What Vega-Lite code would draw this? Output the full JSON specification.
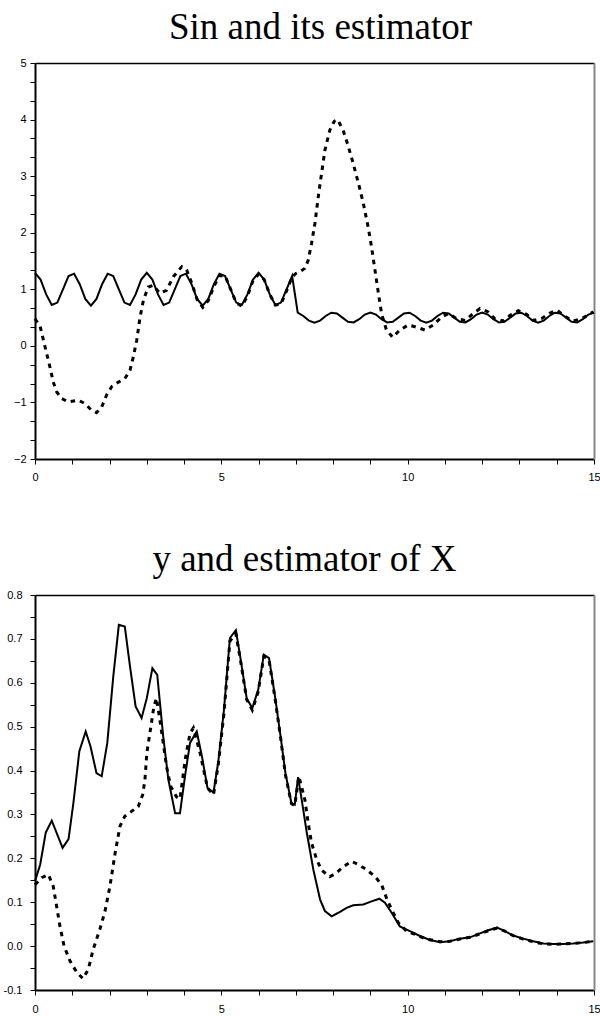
{
  "$schema": "https://vega.github.io/schema/vega-lite/v6.json",
  "padding": {"left": 3, "top": 9, "right": 6, "bottom": 2},
  "background": "white",
  "config": {
    "view": {"stroke": null},
    "axis": {
      "labelFont": "Liberation Sans",
      "labelFontSize": 11,
      "labelColor": "black",
      "tickColor": "black",
      "tickSize": 5,
      "tickWidth": 1,
      "domainColor": "black",
      "domainWidth": 2,
      "grid": false,
      "title": null,
      "labelFlush": false,
      "labelOverlap": false
    },
    "title": {
      "font": "Liberation Serif",
      "fontSize": 37,
      "fontWeight": "normal",
      "color": "black",
      "anchor": "middle",
      "offset": 10
    }
  },
  "bounds": "flush",
  "spacing": 136,
  "datasets": {
    "sin": [
      {"t":0,"v":1.29},{"t":0.15,"v":1.171},{"t":0.3,"v":0.91},{"t":0.45,"v":0.724},{"t":0.6,"v":0.765},{"t":0.75,"v":1.0},{"t":0.9,"v":1.235},{"t":1.05,"v":1.276},{"t":1.2,"v":1.09},{"t":1.35,"v":0.829},
      {"t":1.5,"v":0.71},{"t":1.65,"v":0.829},{"t":1.8,"v":1.09},{"t":1.95,"v":1.276},{"t":2.1,"v":1.235},{"t":2.25,"v":1.0},{"t":2.4,"v":0.765},{"t":2.55,"v":0.724},{"t":2.7,"v":0.91},{"t":2.85,"v":1.171},
      {"t":3.0,"v":1.29},{"t":3.15,"v":1.171},{"t":3.3,"v":0.91},{"t":3.45,"v":0.724},{"t":3.6,"v":0.765},{"t":3.75,"v":1.0},{"t":3.9,"v":1.235},{"t":4.05,"v":1.276},{"t":4.2,"v":1.09},{"t":4.35,"v":0.829},
      {"t":4.5,"v":0.71},{"t":4.65,"v":0.829},{"t":4.8,"v":1.09},{"t":4.95,"v":1.276},{"t":5.1,"v":1.235},{"t":5.25,"v":1.0},{"t":5.4,"v":0.765},{"t":5.55,"v":0.724},{"t":5.7,"v":0.91},{"t":5.85,"v":1.171},
      {"t":6.0,"v":1.29},{"t":6.15,"v":1.171},{"t":6.3,"v":0.91},{"t":6.45,"v":0.724},{"t":6.6,"v":0.765},{"t":6.75,"v":1.0},{"t":6.9,"v":1.235},
      {"t":7.05,"v":0.586},{"t":7.2,"v":0.528},{"t":7.35,"v":0.447},{"t":7.5,"v":0.41},{"t":7.65,"v":0.447},{"t":7.8,"v":0.528},{"t":7.95,"v":0.586},{"t":8.1,"v":0.573},{"t":8.25,"v":0.5},{"t":8.4,"v":0.427},
      {"t":8.55,"v":0.414},{"t":8.7,"v":0.472},{"t":8.85,"v":0.553},{"t":9.0,"v":0.59},{"t":9.15,"v":0.553},{"t":9.3,"v":0.472},{"t":9.45,"v":0.414},{"t":9.6,"v":0.427},{"t":9.75,"v":0.5},{"t":9.9,"v":0.573},
      {"t":10.05,"v":0.586},{"t":10.2,"v":0.528},{"t":10.35,"v":0.447},{"t":10.5,"v":0.41},{"t":10.65,"v":0.447},{"t":10.8,"v":0.528},{"t":10.95,"v":0.586},{"t":11.1,"v":0.573},{"t":11.25,"v":0.5},{"t":11.4,"v":0.427},
      {"t":11.55,"v":0.414},{"t":11.7,"v":0.472},{"t":11.85,"v":0.553},{"t":12.0,"v":0.59},{"t":12.15,"v":0.553},{"t":12.3,"v":0.472},{"t":12.45,"v":0.414},{"t":12.6,"v":0.427},{"t":12.75,"v":0.5},{"t":12.9,"v":0.573},
      {"t":13.05,"v":0.586},{"t":13.2,"v":0.528},{"t":13.35,"v":0.447},{"t":13.5,"v":0.41},{"t":13.65,"v":0.447},{"t":13.8,"v":0.528},{"t":13.95,"v":0.586},{"t":14.1,"v":0.573},{"t":14.25,"v":0.5},{"t":14.4,"v":0.427},
      {"t":14.55,"v":0.414},{"t":14.7,"v":0.472},{"t":14.85,"v":0.553},{"t":15.0,"v":0.59}
    ],
    "sinEst": [
      {"t":0,"v":0.48},{"t":0.14,"v":0.34},{"t":0.27,"v":-0.02},{"t":0.4,"v":-0.37},{"t":0.49,"v":-0.64},{"t":0.58,"v":-0.81},{"t":0.71,"v":-0.93},{"t":0.89,"v":-0.99},{"t":1.16,"v":-0.96},{"t":1.34,"v":-1.02},
      {"t":1.52,"v":-1.14},{"t":1.65,"v":-1.18},{"t":1.79,"v":-1.08},{"t":1.92,"v":-0.87},{"t":2.06,"v":-0.72},{"t":2.24,"v":-0.64},{"t":2.41,"v":-0.58},{"t":2.55,"v":-0.43},{"t":2.64,"v":-0.19},{"t":2.73,"v":0.1},
      {"t":2.82,"v":0.51},{"t":2.91,"v":0.81},{"t":3.04,"v":1.04},{"t":3.17,"v":1.07},{"t":3.35,"v":0.93},{"t":3.53,"v":0.98},{"t":3.71,"v":1.22},{"t":3.94,"v":1.4},{"t":4.07,"v":1.34},{"t":4.2,"v":1.12},
      {"t":4.35,"v":0.82},{"t":4.5,"v":0.68},{"t":4.65,"v":0.8},{"t":4.8,"v":1.05},{"t":4.95,"v":1.24},{"t":5.1,"v":1.24},{"t":5.25,"v":1.0},{"t":5.4,"v":0.76},{"t":5.55,"v":0.7},{"t":5.7,"v":0.88},
      {"t":5.85,"v":1.15},{"t":6.0,"v":1.27},{"t":6.15,"v":1.17},{"t":6.3,"v":0.91},{"t":6.45,"v":0.72},{"t":6.6,"v":0.74},{"t":6.75,"v":0.97},{"t":6.9,"v":1.22},{"t":7.0,"v":1.28},{"t":7.11,"v":1.31},
      {"t":7.24,"v":1.37},{"t":7.33,"v":1.51},{"t":7.42,"v":1.81},{"t":7.51,"v":2.16},{"t":7.6,"v":2.63},{"t":7.69,"v":3.05},{"t":7.78,"v":3.46},{"t":7.91,"v":3.81},{"t":8.03,"v":3.97},{"t":8.12,"v":4.0},
      {"t":8.27,"v":3.81},{"t":8.41,"v":3.52},{"t":8.54,"v":3.22},{"t":8.68,"v":2.87},{"t":8.81,"v":2.52},{"t":8.94,"v":2.1},{"t":9.03,"v":1.75},{"t":9.12,"v":1.35},{"t":9.21,"v":0.95},{"t":9.3,"v":0.57},
      {"t":9.43,"v":0.28},{"t":9.6,"v":0.15},{"t":9.79,"v":0.28},{"t":10.02,"v":0.37},{"t":10.24,"v":0.33},{"t":10.46,"v":0.28},{"t":10.69,"v":0.37},{"t":10.91,"v":0.51},{"t":11.09,"v":0.57},{"t":11.32,"v":0.48},
      {"t":11.54,"v":0.45},{"t":11.76,"v":0.57},{"t":11.94,"v":0.66},{"t":12.16,"v":0.6},{"t":12.34,"v":0.48},{"t":12.57,"v":0.44},{"t":12.75,"v":0.54},{"t":12.97,"v":0.62},{"t":13.19,"v":0.56},{"t":13.37,"v":0.45},
      {"t":13.59,"v":0.48},{"t":13.82,"v":0.58},{"t":14.01,"v":0.63},{"t":14.22,"v":0.52},{"t":14.44,"v":0.44},{"t":14.67,"v":0.48},{"t":14.98,"v":0.6}
    ],
    "y": [
      {"t":0,"v":0.148},{"t":0.14,"v":0.186},{"t":0.29,"v":0.259},{"t":0.45,"v":0.286},{"t":0.74,"v":0.224},{"t":0.9,"v":0.244},{"t":1.03,"v":0.326},{"t":1.19,"v":0.444},{"t":1.36,"v":0.489},{"t":1.49,"v":0.455},
      {"t":1.65,"v":0.394},{"t":1.79,"v":0.387},{"t":1.94,"v":0.463},{"t":2.1,"v":0.614},{"t":2.25,"v":0.732},{"t":2.41,"v":0.728},{"t":2.55,"v":0.637},{"t":2.7,"v":0.546},{"t":2.86,"v":0.52},{"t":3.0,"v":0.565},
      {"t":3.15,"v":0.633},{"t":3.28,"v":0.618},{"t":3.44,"v":0.478},{"t":3.58,"v":0.379},{"t":3.76,"v":0.303},{"t":3.89,"v":0.303},{"t":4.03,"v":0.39},{"t":4.16,"v":0.463},{"t":4.34,"v":0.489},{"t":4.48,"v":0.432},
      {"t":4.63,"v":0.36},{"t":4.79,"v":0.35},{"t":4.92,"v":0.421},{"t":5.07,"v":0.538},{"t":5.23,"v":0.702},{"t":5.39,"v":0.72},{"t":5.52,"v":0.652},{"t":5.68,"v":0.565},{"t":5.83,"v":0.542},{"t":5.99,"v":0.584},
      {"t":6.14,"v":0.664},{"t":6.28,"v":0.656},{"t":6.44,"v":0.569},{"t":6.59,"v":0.478},{"t":6.72,"v":0.394},{"t":6.88,"v":0.326},{"t":6.97,"v":0.322},{"t":7.06,"v":0.385},{"t":7.2,"v":0.31},{"t":7.29,"v":0.26},
      {"t":7.47,"v":0.174},{"t":7.65,"v":0.106},{"t":7.78,"v":0.08},{"t":7.96,"v":0.068},{"t":8.14,"v":0.076},{"t":8.36,"v":0.087},{"t":8.54,"v":0.093},{"t":8.81,"v":0.095},{"t":9.03,"v":0.102},{"t":9.24,"v":0.108},
      {"t":9.39,"v":0.099},{"t":9.57,"v":0.076},{"t":9.79,"v":0.045},{"t":10.06,"v":0.034},{"t":10.33,"v":0.023},{"t":10.6,"v":0.014},{"t":10.87,"v":0.009},{"t":11.13,"v":0.011},{"t":11.4,"v":0.017},{"t":11.67,"v":0.02},
      {"t":11.94,"v":0.029},{"t":12.16,"v":0.036},{"t":12.4,"v":0.042},{"t":12.61,"v":0.034},{"t":12.83,"v":0.024},{"t":13.1,"v":0.017},{"t":13.37,"v":0.011},{"t":13.64,"v":0.006},{"t":13.91,"v":0.005},{"t":14.17,"v":0.005},
      {"t":14.44,"v":0.006},{"t":14.71,"v":0.008},{"t":14.98,"v":0.011}
    ],
    "xEst": [
      {"t":0,"v":0.14},{"t":0.18,"v":0.156},{"t":0.36,"v":0.163},{"t":0.49,"v":0.136},{"t":0.58,"v":0.091},{"t":0.67,"v":0.045},{"t":0.78,"v":0.0},{"t":0.94,"v":-0.034},{"t":1.13,"v":-0.061},{"t":1.29,"v":-0.074},
      {"t":1.43,"v":-0.053},{"t":1.56,"v":-0.008},{"t":1.74,"v":0.038},{"t":1.88,"v":0.08},{"t":2.01,"v":0.136},{"t":2.15,"v":0.212},{"t":2.28,"v":0.273},{"t":2.41,"v":0.296},{"t":2.59,"v":0.307},{"t":2.77,"v":0.318},
      {"t":2.89,"v":0.345},{"t":2.95,"v":0.379},{"t":3.0,"v":0.44},{"t":3.11,"v":0.5},{"t":3.19,"v":0.546},{"t":3.26,"v":0.565},{"t":3.35,"v":0.516},{"t":3.44,"v":0.463},{"t":3.53,"v":0.409},{"t":3.64,"v":0.364},
      {"t":3.8,"v":0.34},{"t":3.89,"v":0.335},{"t":4.03,"v":0.425},{"t":4.16,"v":0.485},{"t":4.25,"v":0.497},{"t":4.43,"v":0.44},{"t":4.63,"v":0.36},{"t":4.79,"v":0.345},{"t":4.92,"v":0.415},{"t":5.07,"v":0.53},
      {"t":5.23,"v":0.695},{"t":5.39,"v":0.712},{"t":5.52,"v":0.648},{"t":5.68,"v":0.562},{"t":5.83,"v":0.538},{"t":5.99,"v":0.58},{"t":6.14,"v":0.66},{"t":6.28,"v":0.652},{"t":6.44,"v":0.565},{"t":6.59,"v":0.475},
      {"t":6.72,"v":0.39},{"t":6.88,"v":0.325},{"t":6.97,"v":0.32},{"t":7.08,"v":0.387},{"t":7.24,"v":0.334},{"t":7.33,"v":0.281},{"t":7.42,"v":0.235},{"t":7.56,"v":0.197},{"t":7.69,"v":0.173},{"t":7.91,"v":0.158},
      {"t":8.09,"v":0.167},{"t":8.27,"v":0.181},{"t":8.5,"v":0.193},{"t":8.67,"v":0.186},{"t":8.9,"v":0.174},{"t":9.12,"v":0.159},{"t":9.3,"v":0.14},{"t":9.43,"v":0.11},{"t":9.57,"v":0.083},{"t":9.75,"v":0.053},
      {"t":9.97,"v":0.034},{"t":10.2,"v":0.027},{"t":10.46,"v":0.017},{"t":10.87,"v":0.01},{"t":11.13,"v":0.011},{"t":11.4,"v":0.016},{"t":11.67,"v":0.02},{"t":11.94,"v":0.028},{"t":12.16,"v":0.035},{"t":12.4,"v":0.041},
      {"t":12.61,"v":0.034},{"t":12.83,"v":0.024},{"t":13.1,"v":0.016},{"t":13.37,"v":0.01},{"t":13.64,"v":0.005},{"t":13.91,"v":0.004},{"t":14.17,"v":0.005},{"t":14.44,"v":0.006},{"t":14.71,"v":0.008},{"t":14.98,"v":0.011}
    ]
  },
  "vconcat": [
    {
      "title": {"text": "Sin and its estimator", "dx": 6},
      "width": 559,
      "height": 396,
      "resolve": {"axis": {"x": "independent", "y": "independent"}},
      "layer": [
        {
          "data": {"name": "sin"},
          "mark": {"type": "line", "color": "black", "strokeWidth": 2},
          "encoding": {
            "x": {"field": "t", "type": "quantitative", "scale": {"domain": [0, 15], "nice": false},
                  "axis": {"orient": "bottom", "values": [0,1,2,3,4,5,6,7,8,9,10,11,12,13,14,15], "labelPadding": 7,
                           "labelExpr": "datum.value % 5 == 0 ? '' + datum.value : ''"}},
            "y": {"field": "v", "type": "quantitative", "scale": {"domain": [-2, 5], "nice": false, "zero": false},
                  "axis": {"orient": "left", "labelPadding": 4,
                           "values": [-2,-1.66667,-1.33333,-1,-0.66667,-0.33333,0,0.33333,0.66667,1,1.33333,1.66667,2,2.33333,2.66667,3,3.33333,3.66667,4,4.33333,4.66667,5],
                           "labelExpr": "abs(datum.value - round(datum.value)) < 0.01 ? (datum.value < -0.5 ? '\u2212' + abs(round(datum.value)) : '' + round(datum.value)) : ''"}}
          }
        },
        {
          "data": {"name": "sinEst"},
          "mark": {"type": "line", "color": "black", "strokeWidth": 3, "strokeDash": [4.5, 5]},
          "encoding": {
            "x": {"field": "t", "type": "quantitative", "scale": {"domain": [0, 15], "nice": false},
                  "axis": {"orient": "top", "ticks": false, "labels": false, "domainWidth": 1.5}},
            "y": {"field": "v", "type": "quantitative", "scale": {"domain": [-2, 5], "nice": false, "zero": false},
                  "axis": {"orient": "right", "ticks": false, "labels": false, "domainColor": "#888888", "domainWidth": 2}}
          }
        }
      ]
    },
    {
      "title": {"text": "y and estimator of X", "dx": -10},
      "width": 559,
      "height": 395,
      "resolve": {"axis": {"x": "independent", "y": "independent"}},
      "layer": [
        {
          "data": {"name": "y"},
          "mark": {"type": "line", "color": "black", "strokeWidth": 2},
          "encoding": {
            "x": {"field": "t", "type": "quantitative", "scale": {"domain": [0, 15], "nice": false},
                  "axis": {"orient": "bottom", "values": [0,1,2,3,4,5,6,7,8,9,10,11,12,13,14,15], "labelPadding": 8,
                           "labelExpr": "datum.value % 5 == 0 ? '' + datum.value : ''"}},
            "y": {"field": "v", "type": "quantitative", "scale": {"domain": [-0.1, 0.8], "nice": false, "zero": false},
                  "axis": {"orient": "left", "labelPadding": 8,
                           "values": [-0.1,-0.05,0,0.05,0.1,0.15,0.2,0.25,0.3,0.35,0.4,0.45,0.5,0.55,0.6,0.65,0.7,0.75,0.8],
                           "labelExpr": "abs(datum.value * 10 - round(datum.value * 10)) < 0.01 ? (datum.value < -0.01 ? '-' + format(abs(datum.value), '.1f') : format(abs(datum.value), '.1f')) : ''"}}
          }
        },
        {
          "data": {"name": "xEst"},
          "mark": {"type": "line", "color": "black", "strokeWidth": 3, "strokeDash": [4.5, 5]},
          "encoding": {
            "x": {"field": "t", "type": "quantitative", "scale": {"domain": [0, 15], "nice": false},
                  "axis": {"orient": "top", "ticks": false, "labels": false, "domainWidth": 1.5}},
            "y": {"field": "v", "type": "quantitative", "scale": {"domain": [-0.1, 0.8], "nice": false, "zero": false},
                  "axis": {"orient": "right", "ticks": false, "labels": false, "domainColor": "#888888", "domainWidth": 2}}
          }
        }
      ]
    }
  ]
}
